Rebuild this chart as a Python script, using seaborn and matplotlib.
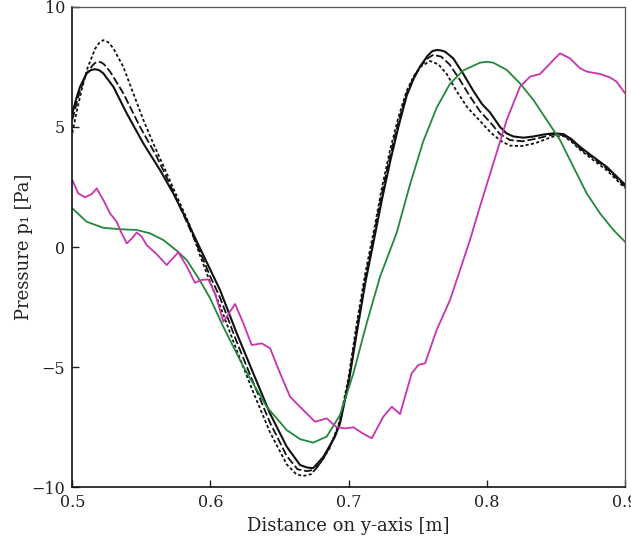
import matplotlib
matplotlib.use("Agg")
import matplotlib.pyplot as plt
import seaborn as sns
import pandas as pd

# ---------------- data ----------------
x_solid = [0.500, 0.5030, 0.5056, 0.5104, 0.5134, 0.5164, 0.5194, 0.5224, 0.5297, 0.5394, 0.5514, 0.5635, 0.5731,
           0.5828, 0.5924, 0.600, 0.6069, 0.619, 0.631, 0.643, 0.6552, 0.6648, 0.670,
           0.6744, 0.6817, 0.686, 0.690, 0.6937, 0.700, 0.7058, 0.712, 0.7185, 0.724,
           0.730, 0.736, 0.742, 0.747, 0.7516, 0.757, 0.7605, 0.7637, 0.767, 0.770, 0.7757, 0.783,
           0.7902, 0.7965, 0.8023, 0.8095, 0.8140, 0.8192, 0.8265, 0.8337, 0.841, 0.848, 0.8554,
           0.861, 0.8674, 0.877, 0.8867, 0.900]
y_solid = [5.56, 6.20, 6.67, 7.23, 7.36, 7.40, 7.36, 7.23, 6.67, 5.56, 4.31, 3.20, 2.23,
           1.12, -0.05, -0.96, -1.79, -3.59, -5.26, -6.92, -8.31, -9.07, -9.18,
           -9.20, -8.73, -8.30, -7.90, -7.35, -5.65, -3.60, -1.50, 0.35, 1.95,
           3.55, 5.00, 6.30, 7.00, 7.50, 7.95, 8.15, 8.20, 8.18, 8.12, 7.85, 7.20,
           6.50, 5.95, 5.60, 5.00, 4.74, 4.60, 4.55, 4.60, 4.68, 4.73, 4.70,
           4.50, 4.17, 3.75, 3.34, 2.60]

x_dashed = [0.500, 0.505, 0.510, 0.5145, 0.5165, 0.5189, 0.5210, 0.523, 0.5273, 0.5369, 0.549, 0.5611,
            0.5707, 0.582, 0.5924, 0.600, 0.6069, 0.619, 0.631, 0.643, 0.6552, 0.663,
            0.670, 0.676, 0.6817, 0.686, 0.690, 0.6937, 0.700, 0.7058, 0.712, 0.7185,
            0.724, 0.730, 0.736, 0.742, 0.747, 0.7516, 0.757, 0.7613, 0.767, 0.773,
            0.780, 0.788, 0.795, 0.8023, 0.8095, 0.8168, 0.826, 0.835, 0.848, 0.8554,
            0.861, 0.8674, 0.877, 0.8867, 0.900]
y_dashed = [5.30, 6.40, 7.20, 7.55, 7.66, 7.71, 7.68, 7.60, 7.30, 6.40, 5.00, 3.76,
            2.60, 1.15, -0.20, -1.25, -2.10, -3.95, -5.65, -7.30, -8.70, -9.25,
            -9.33, -9.25, -8.80, -8.35, -7.85, -7.30, -5.55, -3.40, -1.30, 0.55,
            2.20, 3.80, 5.20, 6.40, 7.05, 7.50, 7.85, 8.00, 7.92, 7.60,
            7.00, 6.25, 5.65, 5.20, 4.70, 4.45, 4.40, 4.50, 4.68, 4.66,
            4.45, 4.10, 3.70, 3.28, 2.52]

x_dotted = [0.500, 0.503, 0.507, 0.511, 0.5165, 0.5195, 0.5224, 0.5260, 0.5297, 0.5369, 0.5441, 0.5514,
            0.5586, 0.5683, 0.5765, 0.585, 0.5924, 0.600, 0.6069, 0.619, 0.631, 0.643,
            0.6552, 0.662, 0.667, 0.673, 0.680, 0.686, 0.690, 0.6937, 0.700, 0.7058,
            0.712, 0.7185, 0.724, 0.730, 0.736, 0.742, 0.747, 0.752, 0.7589, 0.765,
            0.771, 0.778, 0.786, 0.795, 0.803, 0.8105, 0.8168, 0.825, 0.835, 0.848,
            0.8554, 0.861, 0.8674, 0.877, 0.8867, 0.900]
y_dotted = [4.75, 5.60, 6.60, 7.45, 8.25, 8.50, 8.61, 8.52, 8.27, 7.50, 6.40, 5.29,
            4.31, 3.07, 2.00, 0.90, -0.35, -1.50, -2.45, -4.30, -6.05, -7.70,
            -9.05, -9.45, -9.53, -9.45, -8.95, -8.40, -7.80, -7.20, -5.40, -3.20,
            -1.10, 0.75, 2.45, 4.05, 5.40, 6.50, 7.10, 7.50, 7.74, 7.60,
            7.20, 6.50, 5.80, 5.25, 4.75, 4.40, 4.22, 4.20, 4.32, 4.60,
            4.62, 4.40, 4.05, 3.62, 3.20, 2.45]

x_green = [0.500, 0.5104, 0.5224, 0.5345, 0.5466, 0.5562, 0.5659, 0.5755, 0.5828, 0.5924,
           0.5997, 0.6093, 0.6238, 0.6407, 0.6552, 0.665, 0.6744, 0.6841, 0.6937, 0.7034,
           0.713, 0.7227, 0.7348, 0.7444, 0.754, 0.7637, 0.7734, 0.783, 0.795, 0.800,
           0.8047, 0.8144, 0.824, 0.8337, 0.8433, 0.853, 0.8626, 0.8723, 0.8819, 0.8916,
           0.900]
y_green = [1.61, 1.05, 0.80, 0.74, 0.71, 0.57, 0.29, -0.15, -0.54, -1.40,
           -2.13, -3.32, -4.98, -6.65, -7.62, -8.00, -8.14, -7.89, -7.00, -5.26,
           -3.18, -1.24, 0.60, 2.60, 4.40, 5.80, 6.80, 7.35, 7.67, 7.71,
           7.67, 7.37, 6.81, 6.12, 5.29, 4.45, 3.34, 2.23, 1.40, 0.71,
           0.22]

x_magenta = [0.500, 0.5043, 0.5092, 0.5140, 0.5177, 0.5224, 0.5273, 0.5321, 0.5357, 0.5394,
             0.5430, 0.5466, 0.5500, 0.5538, 0.5611, 0.5683, 0.5767, 0.5828, 0.5888, 0.5936,
             0.5985, 0.6033, 0.6093, 0.6178, 0.6238, 0.6298, 0.6371, 0.6432, 0.6504, 0.6576,
             0.6648, 0.6700, 0.6757, 0.6841, 0.6913, 0.6975, 0.7034, 0.7100, 0.7167, 0.7251,
             0.7312, 0.7372, 0.7456, 0.7504, 0.7553, 0.7637, 0.7734, 0.7806, 0.7878, 0.795,
             0.8047, 0.8144, 0.824, 0.8313, 0.8385, 0.8458, 0.853, 0.8602, 0.8674, 0.8723,
             0.8819, 0.8891, 0.8939, 0.900]
y_magenta = [2.79, 2.23, 2.07, 2.20, 2.44, 1.96, 1.40, 1.05, 0.57, 0.15,
             0.35, 0.60, 0.45, 0.08, -0.30, -0.75, -0.22, -0.80, -1.49, -1.37,
             -1.35, -1.93, -3.11, -2.37, -3.18, -4.08, -4.01, -4.22, -5.26, -6.23,
             -6.65, -6.95, -7.27, -7.13, -7.50, -7.55, -7.50, -7.75, -7.96, -7.06,
             -6.65, -6.95, -5.26, -4.91, -4.84, -3.45, -2.20, -0.96, 0.29, 1.68,
             3.48, 5.29, 6.67, 7.09, 7.20, 7.64, 8.06, 7.85, 7.44, 7.30,
             7.20, 7.06, 6.88, 6.40]

x_ticks = [0.5, 0.6, 0.7, 0.8, 0.9]
x_tick_labels = ["0.5", "0.6", "0.7", "0.8", "0.9"]
y_ticks = [-10, -5, 0, 5, 10]
y_tick_labels = ["\u221210", "\u22125", "0", "5", "10"]
x_label = "Distance on y-axis [m]"
y_label = "Pressure p\u2081 [Pa]"

# ---------------- style ----------------
sns.set_theme(style="white")
plt.rcParams["font.family"] = ["DejaVu Serif"]
plt.rcParams["axes.unicode_minus"] = True

fig = plt.figure(figsize=(6.31, 5.46), dpi=100)
ax = fig.add_axes([0.1146, 0.1075, 0.8759, 0.8802])

black = "#111111"
green = "#22883a"
magenta = "#c833b0"

series = [
    (x_solid, y_solid, black, "-", 1.5),
    (x_dashed, y_dashed, black, (0, (4.5, 1.6)), 1.3),
    (x_dotted, y_dotted, black, (0, (1.7, 1.3)), 1.3),
    (x_green, y_green, green, "-", 1.3),
    (x_magenta, y_magenta, magenta, "-", 1.3),
]
for xs, ys, col, ls, lw in series:
    df = pd.DataFrame({"x": xs, "y": ys})
    sns.lineplot(data=df, x="x", y="y", ax=ax, color=col, linestyle=ls,
                 linewidth=lw, estimator=None, sort=False)

ax.set_xlim(0.5, 0.9)
ax.set_ylim(-10, 10)
ax.set_xticks(x_ticks)
ax.set_xticklabels(x_tick_labels)
ax.set_yticks(y_ticks)
ax.set_yticklabels(y_tick_labels)
ax.tick_params(axis="both", direction="in", length=5, width=1.0, colors="#222222",
               labelsize=11.5, labelcolor="#222222", top=False, right=False,
               bottom=True, left=True, pad=5)
ax.set_xlabel(x_label, fontsize=13, color="#222222", labelpad=4)
ax.set_ylabel(y_label, fontsize=13, color="#222222", labelpad=-1)

for side in ["left", "bottom"]:
    ax.spines[side].set_color("#111111")
    ax.spines[side].set_linewidth(1.2)
for side in ["top", "right"]:
    ax.spines[side].set_color("#555555")
    ax.spines[side].set_linewidth(0.9)
ax.set_facecolor("white")

fig.savefig("out.png", dpi=100, facecolor="white")
